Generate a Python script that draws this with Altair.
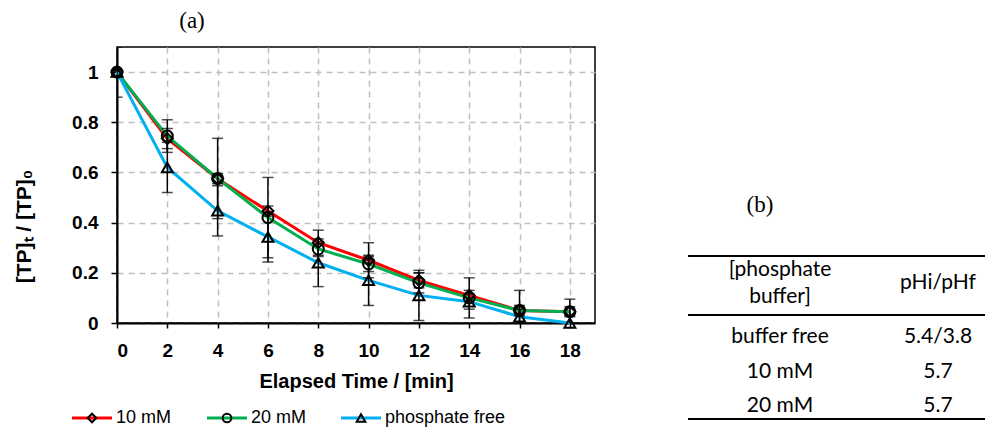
import altair as alt
import pandas as pd

times = [0, 2, 4, 6, 8, 10, 12, 14, 16, 18]
series = ["10 mM", "20 mM", "phosphate free"]
vals_10mM = [1.0, 0.735, 0.575, 0.446, 0.32, 0.25, 0.17, 0.11, 0.05, 0.045]
vals_20mM = [1.0, 0.745, 0.576, 0.42, 0.295, 0.235, 0.16, 0.10, 0.05, 0.045]
vals_free = [1.0, 0.62, 0.447, 0.343, 0.24, 0.17, 0.11, 0.085, 0.025, 0.0]
err_10mM = [0.0, 0.04, 0.02, 0.02, 0.05, 0.07, 0.03, 0.02, 0.02, 0.05]
err_20mM = [0.0, 0.065, 0.16, 0.16, 0.03, 0.03, 0.04, 0.08, 0.08, 0.02]
err_free = [0.1, 0.1, 0.1, 0.1, 0.095, 0.1, 0.1, 0.03, 0.03, 0.03]

colors = ["#ff0000", "#00b050", "#00b0f0"]
shapes = ["diamond", "circle", "triangle-up"]

table_header = ["[phosphate", "buffer]", "pHi/pHf"]
table_col1 = ["buffer free", "10 mM", "20 mM"]
table_col2 = ["5.4/3.8", "5.7", "5.7"]

rows = []
for name, vals, errs in zip(series, [vals_10mM, vals_20mM, vals_free], [err_10mM, err_20mM, err_free]):
    for t, v, e in zip(times, vals, errs):
        rows.append(dict(t=t, v=v, lo=v - e, hi=v + e, e=e, s=name))
df = pd.DataFrame(rows)

AF = "Liberation Sans"
xscale = alt.Scale(domain=[0, 19], nice=False, zero=False)
yscale = alt.Scale(domain=[0, 1.1], nice=False)
xaxis = alt.Axis(values=times, title="Elapsed Time / [min]", grid=True, gridDash=[6, 5],
                 gridColor="#bfbfbf", gridWidth=1.5, labelFont=AF, labelFontWeight="bold",
                 labelFontSize=19, labelColor="black", tickColor="black", tickSize=5,
                 tickWidth=1.5, domainColor="black", domainWidth=2, labelPadding=13,
                 titleFont=AF, titleFontSize=20, titleFontWeight="bold", titleColor="black",
                 titleY=58, titleBaseline="middle")
yaxis = alt.Axis(values=[0, 0.2, 0.4, 0.6, 0.8, 1.0], format="~g", title="[TP]ₜ / [TP]₀",
                 grid=True, gridDash=[6, 5], gridColor="#bfbfbf", gridWidth=1.5,
                 labelFont=AF, labelFontWeight="bold", labelFontSize=19, labelColor="black",
                 tickColor="black", tickSize=6, tickWidth=1.5, domainColor="black",
                 domainWidth=2, labelPadding=13, titleFont=AF, titleFontSize=21,
                 titleFontWeight="bold", titleColor="black", titleX=-93, titleY=179,
                 titleAlign="center", titleBaseline="middle", titleAngle=270)

base = alt.Chart(df)
X = alt.X("t:Q", scale=xscale, axis=xaxis)
color = alt.Color("s:N", scale=alt.Scale(domain=series, range=colors), legend=None)

lines = base.mark_line(strokeWidth=3).encode(
    x=X, y=alt.Y("v:Q", scale=yscale, axis=yaxis), color=color)

err = base.transform_filter("datum.e > 0")
bars = err.mark_rule(color="black", strokeWidth=1.5, clip=True).encode(
    x=X, y=alt.Y("lo:Q", scale=yscale, axis=yaxis), y2="hi:Q")
cap_lo = err.mark_tick(orient="horizontal", size=11, thickness=1.5, color="black", clip=True).encode(
    x=X, y=alt.Y("lo:Q", scale=yscale, axis=yaxis))
cap_hi = err.mark_tick(orient="horizontal", size=11, thickness=1.5, color="black", clip=True).encode(
    x=X, y=alt.Y("hi:Q", scale=yscale, axis=yaxis))

points = base.mark_point(filled=False, color="black", strokeWidth=2, size=120, opacity=1).encode(
    x=X, y=alt.Y("v:Q", scale=yscale, axis=yaxis),
    shape=alt.Shape("s:N", scale=alt.Scale(domain=series, range=shapes), legend=None))

layers = [lines, bars, cap_lo, cap_hi, points]


def txt(label, x, y, size=18, font=AF, align="left"):
    return alt.Chart(pd.DataFrame({"label": [label]})).mark_text(
        align=align, baseline="middle", fontSize=size, font=font, color="black").encode(
        x=alt.value(x), y=alt.value(y), text="label:N")


def hline(x1, x2, y, w=2, c="black"):
    return alt.Chart(pd.DataFrame({"k": [0]})).mark_rule(color=c, strokeWidth=w).encode(
        x=alt.value(x1), x2=alt.value(x2), y=alt.value(y))


# legend
LY = 371
leg_x = [-45, 90, 224]
for name, c, shp, lx in zip(series, colors, shapes, leg_x):
    layers.append(hline(lx, lx + 40, LY, w=3, c=c))
    layers.append(alt.Chart(pd.DataFrame({"s": [name]})).mark_point(
        shape=shp, filled=False, color="black", strokeWidth=2, size=75, opacity=1).encode(
        x=alt.value(lx + 20), y=alt.value(LY)))
    layers.append(txt(name, lx + 44, LY, size=18))

# panel labels
SF = "Liberation Serif"
layers.append(txt("(a)", 75, -26, size=23, font=SF, align="center"))
layers.append(txt("(b)", 643, 158, size=23, font=SF, align="center"))

# table
TF = "Lato"
TS = 21
layers.append(hline(571, 875, 209))
layers.append(hline(571, 875, 268))
layers.append(hline(571, 875, 372))
layers.append(txt(table_header[0], 663, 223, size=TS, font=TF, align="center"))
layers.append(txt(table_header[1], 663, 250, size=TS, font=TF, align="center"))
layers.append(txt(table_header[2], 821, 236, size=TS, font=TF, align="center"))
for i, (a, b) in enumerate(zip(table_col1, table_col2)):
    yy = 290 + i * 34.5
    layers.append(txt(a, 663, yy, size=TS, font=TF, align="center"))
    layers.append(txt(b, 821, yy, size=TS, font=TF, align="center"))

chart = alt.layer(*layers).properties(
    width=478, height=276, autosize="none",
    padding={"left": 109, "top": 39, "right": 390, "bottom": 106},
).configure_view(stroke="black", strokeWidth=1.5)

chart.save("out.html", embed_options={"renderer": "svg", "actions": False})
